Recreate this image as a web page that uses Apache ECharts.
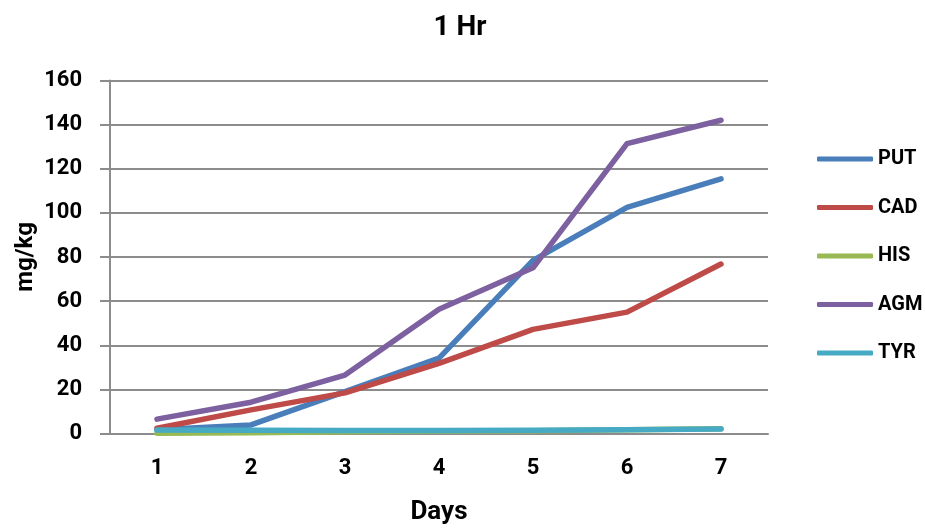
<!DOCTYPE html>
<html>
<head>
<meta charset="utf-8">
<script src="https://cdn.jsdelivr.net/npm/echarts@6/dist/echarts.min.js"></script>
<style>
  html, body { margin: 0; padding: 0; background: #fff; }
  #chart { width: 925px; height: 531px; }
</style>
</head>
<body>
<div id="chart"></div>
<script>
// Amine levels (mg/kg) over storage days, 1 hour sampling
const days = ['1', '2', '3', '4', '5', '6', '7'];
const yTicks = [0, 20, 40, 60, 80, 100, 120, 140, 160];
const PUT = [1.7, 3.9, 19, 34.2, 78.5, 102.5, 115.4];
const CAD = [2.4, 10.7, 18.4, 31.8, 47.2, 55, 76.8];
const HIS = [0.1, 0.3, 0.8, 1.1, 1.3, 1.7, 2.1];
const AGM = [6.5, 14.2, 26.5, 56.3, 75.1, 131.4, 142];
const TYR = [1.6, 1.5, 1.4, 1.4, 1.5, 1.7, 2.0];

const seriesNames = ['PUT', 'CAD', 'HIS', 'AGM', 'TYR'];
const seriesData = [PUT, CAD, HIS, AGM, TYR];
const colors = ['#4A7EBB', '#BE4B48', '#98B954', '#7D60A0', '#46AAC5'];

const FONT = 'Roboto, "Liberation Sans", sans-serif';

const chart = echarts.init(document.getElementById('chart'), null, { renderer: 'canvas' });

chart.setOption({
  animation: false,
  color: colors,
  title: {
    text: '1 Hr',
    left: 455,
    textAlign: 'center',
    top: 9,
    textStyle: { fontFamily: FONT, fontWeight: 'bold', fontSize: 28, color: '#000' }
  },
  grid: {
    left: 110, right: 157, top: 80.5, bottom: 97.5,
    containLabel: false,
    outerBoundsMode: 'none'
  },
  legend: {
    orient: 'vertical',
    left: 817,
    top: 145,
    padding: 0,
    itemWidth: 56,
    itemHeight: 5,
    itemGap: 20.5,
    icon: 'roundRect',
    data: seriesNames,
    textStyle: { fontFamily: FONT, fontWeight: 'bold', fontSize: 20, color: '#000', lineHeight: 28, padding: [0, 0, 0, 0] }
  },
  xAxis: {
    type: 'category',
    data: days,
    boundaryGap: true,
    name: 'Days',
    nameLocation: 'middle',
    nameGap: 66,
    nameMoveOverlap: false,
    nameTextStyle: { fontFamily: FONT, fontWeight: 'bold', fontSize: 26, color: '#000' },
    axisLine: { lineStyle: { color: '#8c8c8c', width: 2 } },
    axisTick: { show: false },
    axisLabel: { fontFamily: FONT, fontWeight: 'bold', fontSize: 22, color: '#000', margin: 24 },
    splitLine: { show: false }
  },
  yAxis: {
    type: 'value',
    min: yTicks[0],
    max: yTicks[yTicks.length - 1],
    interval: yTicks[1] - yTicks[0],
    name: 'mg/kg',
    nameLocation: 'middle',
    nameGap: 72,
    nameRotate: 90,
    nameMoveOverlap: false,
    nameTextStyle: { fontFamily: FONT, fontWeight: 'bold', fontSize: 24, color: '#000' },
    axisLine: { show: true, lineStyle: { color: '#8c8c8c', width: 2 } },
    axisTick: { show: true, length: 10, lineStyle: { color: '#8c8c8c', width: 2 } },
    axisLabel: { fontFamily: FONT, fontWeight: 'bold', fontSize: 22, color: '#000', margin: 28 },
    splitLine: { show: true, lineStyle: { color: '#8c8c8c', width: 2 } }
  },
  series: seriesNames.map((name, i) => ({
    name,
    type: 'line',
    data: seriesData[i],
    symbol: 'none',
    lineStyle: { width: 5.5, color: colors[i], cap: 'round', join: 'round' },
    itemStyle: { color: colors[i] },
    z: name === 'TYR' ? 5 : 3
  }))
});
</script>
</body>
</html>
